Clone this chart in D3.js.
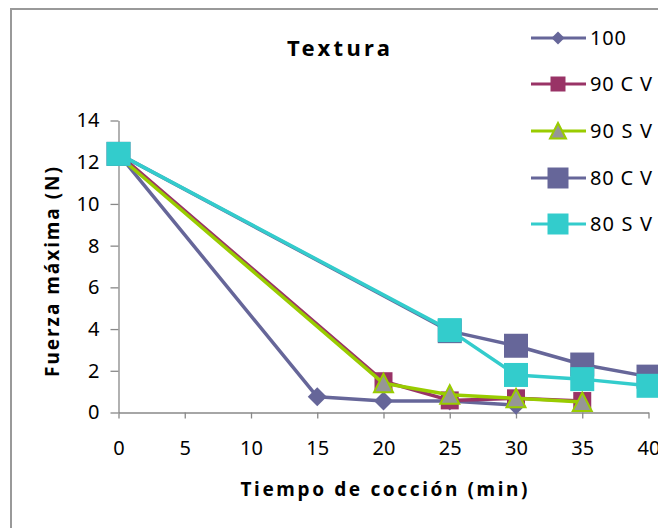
<!DOCTYPE html>
<html lang="es">
<head>
  <meta charset="UTF-8">
  <title>Textura</title>
  <script src="https://d3js.org/d3.v7.min.js"></script>
  <style>
    body { margin: 0; background: #fff; }
    svg { display: block; font-family: "Noto Sans", "Open Sans", sans-serif; }
  </style>
</head>
<body>
<div id="chart"></div>
<script>
  // datos
  const xTicks = [0, 5, 10, 15, 20, 25, 30, 35, 40];
  const yTicks = [0, 2, 4, 6, 8, 10, 12, 14];
  const seriesNames = ["100", "90 C V", "90 S V", "80 C V", "80 S V"];
  const t100 = [0, 15, 20, 25, 30];
  const v100 = [12.4, 0.75, 0.55, 0.55, 0.35];
  const t90cv = [0, 20, 25, 30, 35];
  const v90cv = [12.4, 1.5, 0.58, 0.68, 0.55];
  const t90sv = [0, 20, 25, 30, 35];
  const v90sv = [12.3, 1.4, 0.85, 0.68, 0.5];
  const t80cv = [0, 25, 30, 35, 40];
  const v80cv = [12.4, 3.9, 3.2, 2.3, 1.72];
  const t80sv = [0, 25, 30, 35, 40];
  const v80sv = [12.4, 3.95, 1.8, 1.6, 1.28];

  const width = 658, height = 528;

  const series = [
    { name: seriesNames[0], t: t100, v: v100, color: "#666699", fill: "#666699", shape: "diamond", size: 19, lsize: 13 },
    { name: seriesNames[1], t: t90cv, v: v90cv, color: "#993366", fill: "#993366", shape: "square", size: 18, lsize: 15 },
    { name: seriesNames[2], t: t90sv, v: v90sv, color: "#99CC00", fill: "#969696", shape: "triangle", size: 19, lsize: 16 },
    { name: seriesNames[3], t: t80cv, v: v80cv, color: "#666699", fill: "#666699", shape: "square", size: 24, lsize: 21 },
    { name: seriesNames[4], t: t80sv, v: v80sv, color: "#33CCCC", fill: "#33CCCC", shape: "square", size: 24, lsize: 21 }
  ];

  const svg = d3.select("#chart").append("svg")
    .attr("width", width)
    .attr("height", height);

  // marco exterior
  svg.append("rect")
    .attr("x", 11).attr("y", 9)
    .attr("width", 700).attr("height", 600)
    .attr("fill", "none")
    .attr("stroke", "#999")
    .attr("stroke-width", 2);

  const x = d3.scaleLinear().domain([0, 40]).range([118.5, 648.5]);
  const y = d3.scaleLinear().domain([0, 14]).range([412.5, 120.5]);

  // ejes
  const xAxis = svg.append("g")
    .attr("transform", `translate(0,${y(0)})`)
    .call(d3.axisBottom(x).tickValues(xTicks).tickSize(6).tickPadding(36).tickSizeOuter(0));
  const yAxis = svg.append("g")
    .attr("transform", `translate(${x(0)},0)`)
    .call(d3.axisLeft(y).tickValues(yTicks).tickSize(8).tickPadding(11).tickSizeOuter(0));

  [xAxis, yAxis].forEach(a => {
    a.selectAll("path, line").attr("stroke", "#888").attr("stroke-width", 1.3);
    a.selectAll("text")
      .attr("font-size", 20)
      .attr("fill", "#000")
      .attr("font-family", "\"Noto Sans\", sans-serif");
  });
  xAxis.selectAll("text").attr("dy", "0");

  function shapePath(shape, s) {
    const h = s / 2;
    if (shape === "diamond") return `M0,${-h}L${h},0L0,${h}L${-h},0Z`;
    if (shape === "triangle") return `M0,${-h}L${h},${h * 0.95}L${-h},${h * 0.95}Z`;
    return `M${-h},${-h}H${h}V${h}H${-h}Z`;
  }

  const line = d3.line().x(d => x(d[0])).y(d => y(d[1]));

  series.forEach(s => {
    const pts = s.t.map((t, i) => [t, s.v[i]]);
    const g = svg.append("g");
    g.append("path")
      .attr("d", line(pts))
      .attr("fill", "none")
      .attr("stroke", s.color)
      .attr("stroke-width", 3.5)
      .attr("stroke-linejoin", "round");
    g.selectAll("path.m")
      .data(pts)
      .enter()
      .append("path")
      .attr("class", "m")
      .attr("transform", d => `translate(${x(d[0])},${y(d[1])})`)
      .attr("d", shapePath(s.shape, s.size))
      .attr("fill", s.fill)
      .attr("stroke", s.shape === "triangle" ? s.color : "none")
      .attr("stroke-width", 2);
  });

  // título
  svg.append("text")
    .attr("x", 338.5).attr("y", 56)
    .attr("text-anchor", "middle")
    .attr("font-size", 22)
    .attr("font-weight", "bold")
    .attr("textLength", 103)
    .attr("lengthAdjust", "spacing")
    .text("Textura");

  // títulos de ejes
  svg.append("text")
    .attr("x", 384).attr("y", 496)
    .attr("text-anchor", "middle")
    .attr("font-size", 19)
    .attr("font-weight", "bold")
    .attr("textLength", 287)
    .attr("lengthAdjust", "spacing")
    .text("Tiempo de cocción (min)");

  svg.append("text")
    .attr("transform", "translate(59,272) rotate(-90)")
    .attr("text-anchor", "middle")
    .attr("font-size", 19)
    .attr("font-weight", "bold")
    .attr("textLength", 210)
    .attr("lengthAdjust", "spacing")
    .text("Fuerza máxima (N)");

  // leyenda
  const legendY = [38, 84, 131, 178, 224];
  const legend = svg.append("g");
  series.forEach((s, i) => {
    const g = legend.append("g").attr("transform", `translate(0,${legendY[i]})`);
    g.append("line")
      .attr("x1", 531).attr("x2", 586)
      .attr("stroke", s.color)
      .attr("stroke-width", 3);
    g.append("path")
      .attr("transform", "translate(558,0)")
      .attr("d", shapePath(s.shape, s.lsize))
      .attr("fill", s.fill)
      .attr("stroke", s.shape === "triangle" ? s.color : "none")
      .attr("stroke-width", 2);
    g.append("text")
      .attr("x", 590).attr("y", 7)
      .attr("font-size", 20)
      .attr("textLength", i === 0 ? 36 : 62)
      .attr("lengthAdjust", "spacing")
      .text(s.name);
  });
</script>
</body>
</html>
